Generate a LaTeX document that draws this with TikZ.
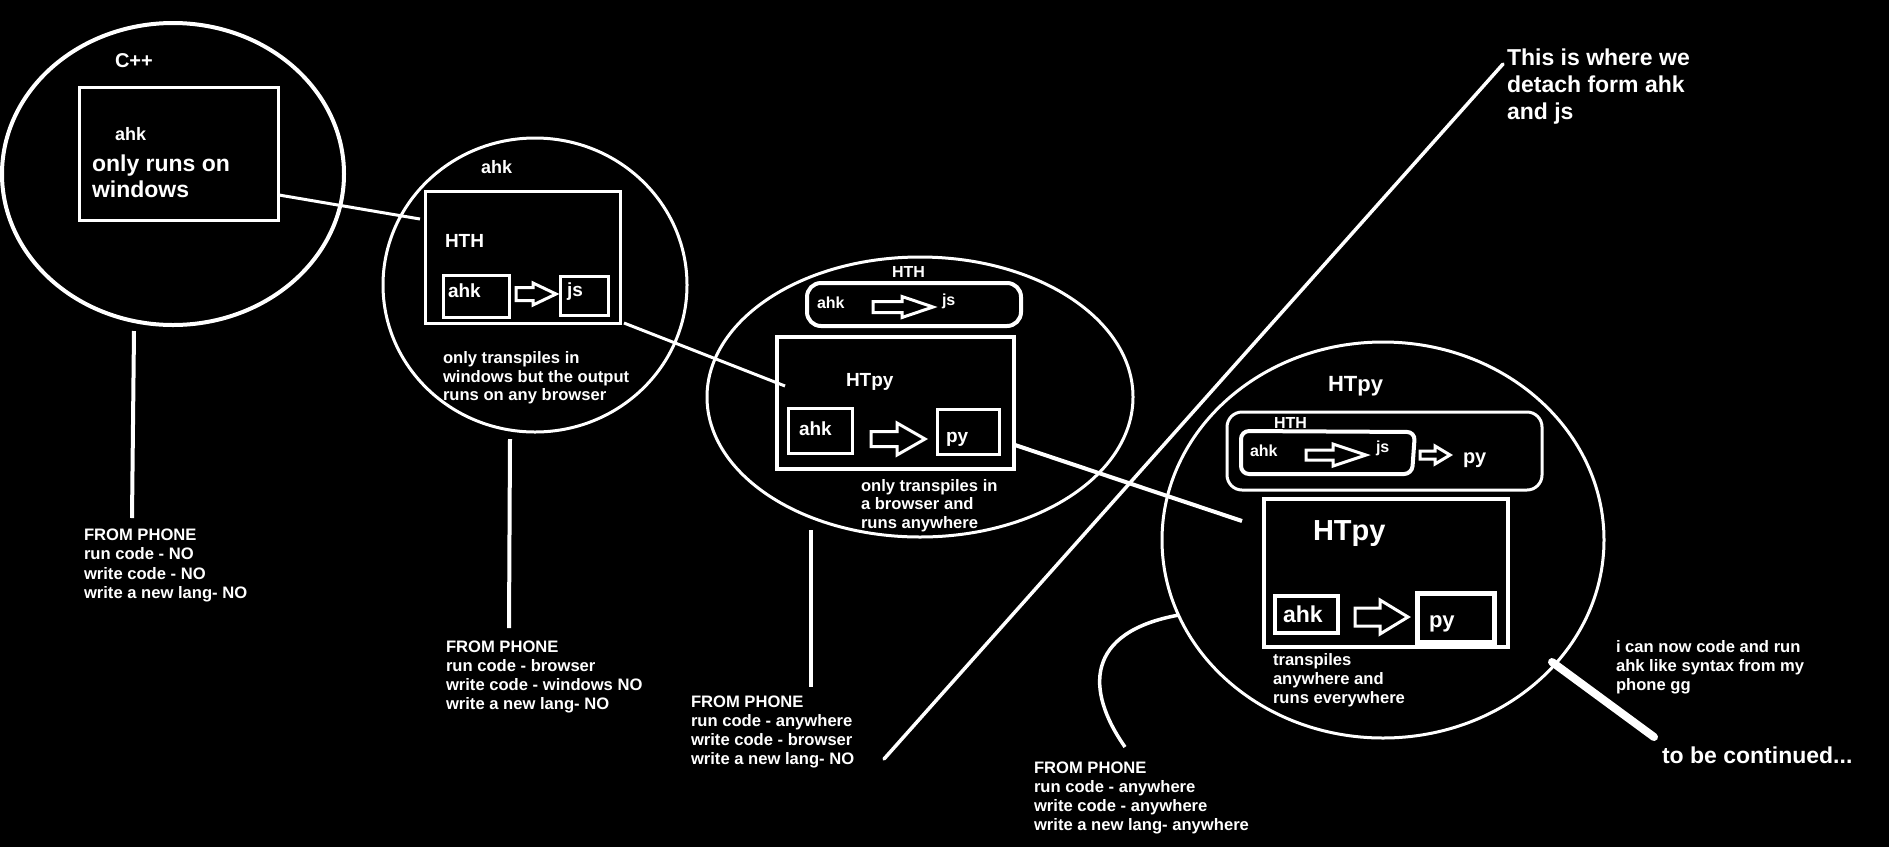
\documentclass[tikz,border=0pt]{standalone}
\usepackage{fontspec}
\setmainfont{Liberation Sans}
\newcommand{\fsz}[1]{\fontsize{#1}{#1}\selectfont\bfseries}
\newcommand{\hollowarr}[6]{\draw[wl] (#1,#3-#4) -- (#2-#6,#3-#4) -- (#2-#6,#3-#5) -- (#2,#3) -- (#2-#6,#3+#5) -- (#2-#6,#3+#4) -- (#1,#3+#4) -- cycle;}
\begin{document}
\begin{tikzpicture}[x=1pt,y=-1pt,
  wl/.style={draw=white, line width=3pt},
  txt/.style={text=white, anchor=base west, inner sep=0pt, outer sep=0pt},
  small/.style={txt, font=\fsz{16.6}}]
\fill[black] (0,0) rectangle (1889,847);
% ---------- circle 1: C++
\draw[wl, line width=4pt] (173,174) ellipse [x radius=171, y radius=151];
\node[txt, font=\fsz{20}] (cpp) at (115,67) {C++};
\draw[wl] (79,87) rectangle (278,220);
\node[txt, font=\fsz{18}] (ahka) at (115,140) {ahk};
\node[txt, font=\fsz{23}] (runs1) at (92,171) {only runs on};
\node[txt, font=\fsz{23}] (runs2) at (92,197) {windows};
% ---------- circle 2: ahk
\draw[wl] (535,285) ellipse [x radius=152, y radius=147];
\node[txt, font=\fsz{18}] (ahkb) at (481,173) {ahk};
\draw[wl] (425,191) rectangle (620,323);
\node[txt, font=\fsz{19}] (hthb) at (445,247) {HTH};
\draw[wl] (443,275) rectangle (509,317);
\node[txt, font=\fsz{19}] (ahkbi) at (448,297) {ahk};
\hollowarr{516}{556}{294}{6.5}{11}{23}
\draw[wl] (560,276) rectangle (608,315);
\node[txt, font=\fsz{19}] (jsb) at (567,296) {js};
\node[small] (tb1) at (443,363) {only transpiles in};
\node[small] (tb2) at (443,382) {windows but the output};
\node[small] (tb3) at (443,400) {runs on any browser};
% ---------- ellipse 3
\draw[wl] (920,397) ellipse [x radius=213, y radius=140];
\node[txt, font=\fsz{16}] (hthc) at (892,277) {HTH};
\draw[wl, line width=4pt, rounded corners=14pt] (807,283) rectangle (1021,326);
\node[txt, font=\fsz{16}] (ahkc) at (817,308) {ahk};
\hollowarr{873}{933}{307}{5.5}{10.5}{31}
\node[txt, font=\fsz{16}] (jsc) at (942,305) {js};
\draw[wl, line width=4pt] (777,337) rectangle (1014,469);
\node[txt, font=\fsz{19}] (htpyc) at (846,386) {HTpy};
\draw[wl] (788,408) rectangle (852,453);
\node[txt, font=\fsz{19}] (ahkci) at (799,435) {ahk};
\hollowarr{871}{925}{439}{7.5}{16}{28}
\draw[wl] (937,409) rectangle (999,454);
\node[txt, font=\fsz{19}] (pyc) at (946,442) {py};
\node[small] (tc1) at (861,491) {only transpiles in};
\node[small] (tc2) at (861,509.5) {a browser and};
\node[small] (tc3) at (861,528) {runs anywhere};
% ---------- circle 4
\draw[wl] (1383,540) ellipse [x radius=221, y radius=198];
\node[txt, font=\fsz{22}] (htpyd) at (1328,391) {HTpy};
\draw[wl, rounded corners=15pt] (1227,412) rectangle (1542,490);
\node[txt, font=\fsz{16}] (hthd) at (1274,428) {HTH};
\draw[wl, line width=4pt, rounded corners=8pt] (1241,431) -- (1415,432) -- (1412,474) -- (1241,474) -- cycle;
\node[txt, font=\fsz{16}] (ahkd) at (1250,456) {ahk};
\hollowarr{1306}{1366}{455}{5}{11}{33}
\node[txt, font=\fsz{16}] (jsd) at (1376,452) {js};
\hollowarr{1420}{1450}{455}{4}{9}{15}
\node[txt, font=\fsz{20}] (pyd) at (1463,463) {py};
\draw[wl, line width=4pt] (1264,499) rectangle (1508,647);
\node[txt, font=\fsz{29}] (htpydi) at (1313,540) {HTpy};
\draw[wl, line width=4pt] (1275,596) rectangle (1338,633);
\node[txt, font=\fsz{23}] (ahkdi) at (1283,622) {ahk};
\hollowarr{1355}{1408}{617}{9}{17}{28}
\draw[wl, line width=5pt] (1417,593) rectangle (1494,642);
\node[txt, font=\fsz{22}] (pydi) at (1429,627) {py};
\node[small] (td1) at (1273,665) {transpiles};
\node[small] (td2) at (1273,684) {anywhere and};
\node[small] (td3) at (1273,703) {runs everywhere};
% ---------- connector end points
\coordinate (l1a) at (279,195); \coordinate (l1b) at (420,219);
\coordinate (l2a) at (624,323); \coordinate (l2b) at (785,386);
\coordinate (l3a) at (1015,445); \coordinate (l3b) at (1242,521);
\coordinate (v1a) at (134,331); \coordinate (v1b) at (132,518);
\coordinate (v2a) at (510,439); \coordinate (v2b) at (509,628);
\coordinate (v3a) at (811,530); \coordinate (v3b) at (811,687);
\coordinate (da) at (1503,64); \coordinate (db) at (884,759);
\coordinate (ca) at (1179,615); \coordinate (cb) at (1125,747);
\coordinate (ta) at (1552,662); \coordinate (tb) at (1654,737);
\draw[wl] (l1a) -- (l1b);
\draw[wl] (l2a) -- (l2b);
\draw[wl, line width=4pt] (l3a) -- (l3b);
\draw[wl, line width=4pt] (v1a) -- (v1b);
\draw[wl, line width=4pt] (v2a) -- (v2b);
\draw[wl, line width=4pt] (v3a) -- (v3b);
\draw[wl, line width=3.5pt, line cap=round] (da) -- (db);
\draw[wl, line width=3.5pt] (ca) .. controls (1085,632) and (1085,690) .. (cb);
\draw[wl, line width=8pt, line cap=round] (ta) -- (tb);
% ---------- texts
\node[small] (f1a) at (84,540) {FROM PHONE};
\node[small] (f1b) at (84,559.5) {run code - NO};
\node[small] (f1c) at (84,579) {write code - NO};
\node[small] (f1d) at (84,598) {write a new lang- NO};
\node[small] (f2a) at (446,652) {FROM PHONE};
\node[small] (f2b) at (446,671) {run code - browser};
\node[small] (f2c) at (446,690) {write code - windows NO};
\node[small] (f2d) at (446,709) {write a new lang- NO};
\node[small] (f3a) at (691,707) {FROM PHONE};
\node[small] (f3b) at (691,726) {run code - anywhere};
\node[small] (f3c) at (691,745) {write code - browser};
\node[small] (f3d) at (691,764) {write a new lang- NO};
\node[small] (f4a) at (1034,773) {FROM PHONE};
\node[small] (f4b) at (1034,792) {run code - anywhere};
\node[small] (f4c) at (1034,811) {write code - anywhere};
\node[small] (f4d) at (1034,830) {write a new lang- anywhere};
\node[txt, font=\fsz{23}] (det1) at (1507,65) {This is where we};
\node[txt, font=\fsz{23}] (det2) at (1507,92) {detach form ahk};
\node[txt, font=\fsz{23}] (det3) at (1507,119) {and js};
\node[small] (gg1) at (1616,652) {i can now code and run};
\node[small] (gg2) at (1616,671) {ahk like syntax from my};
\node[small] (gg3) at (1616,690) {phone gg};
\node[txt, font=\fsz{23}] (tbc) at (1662,763) {to be continued...};
\end{tikzpicture}
\end{document}
